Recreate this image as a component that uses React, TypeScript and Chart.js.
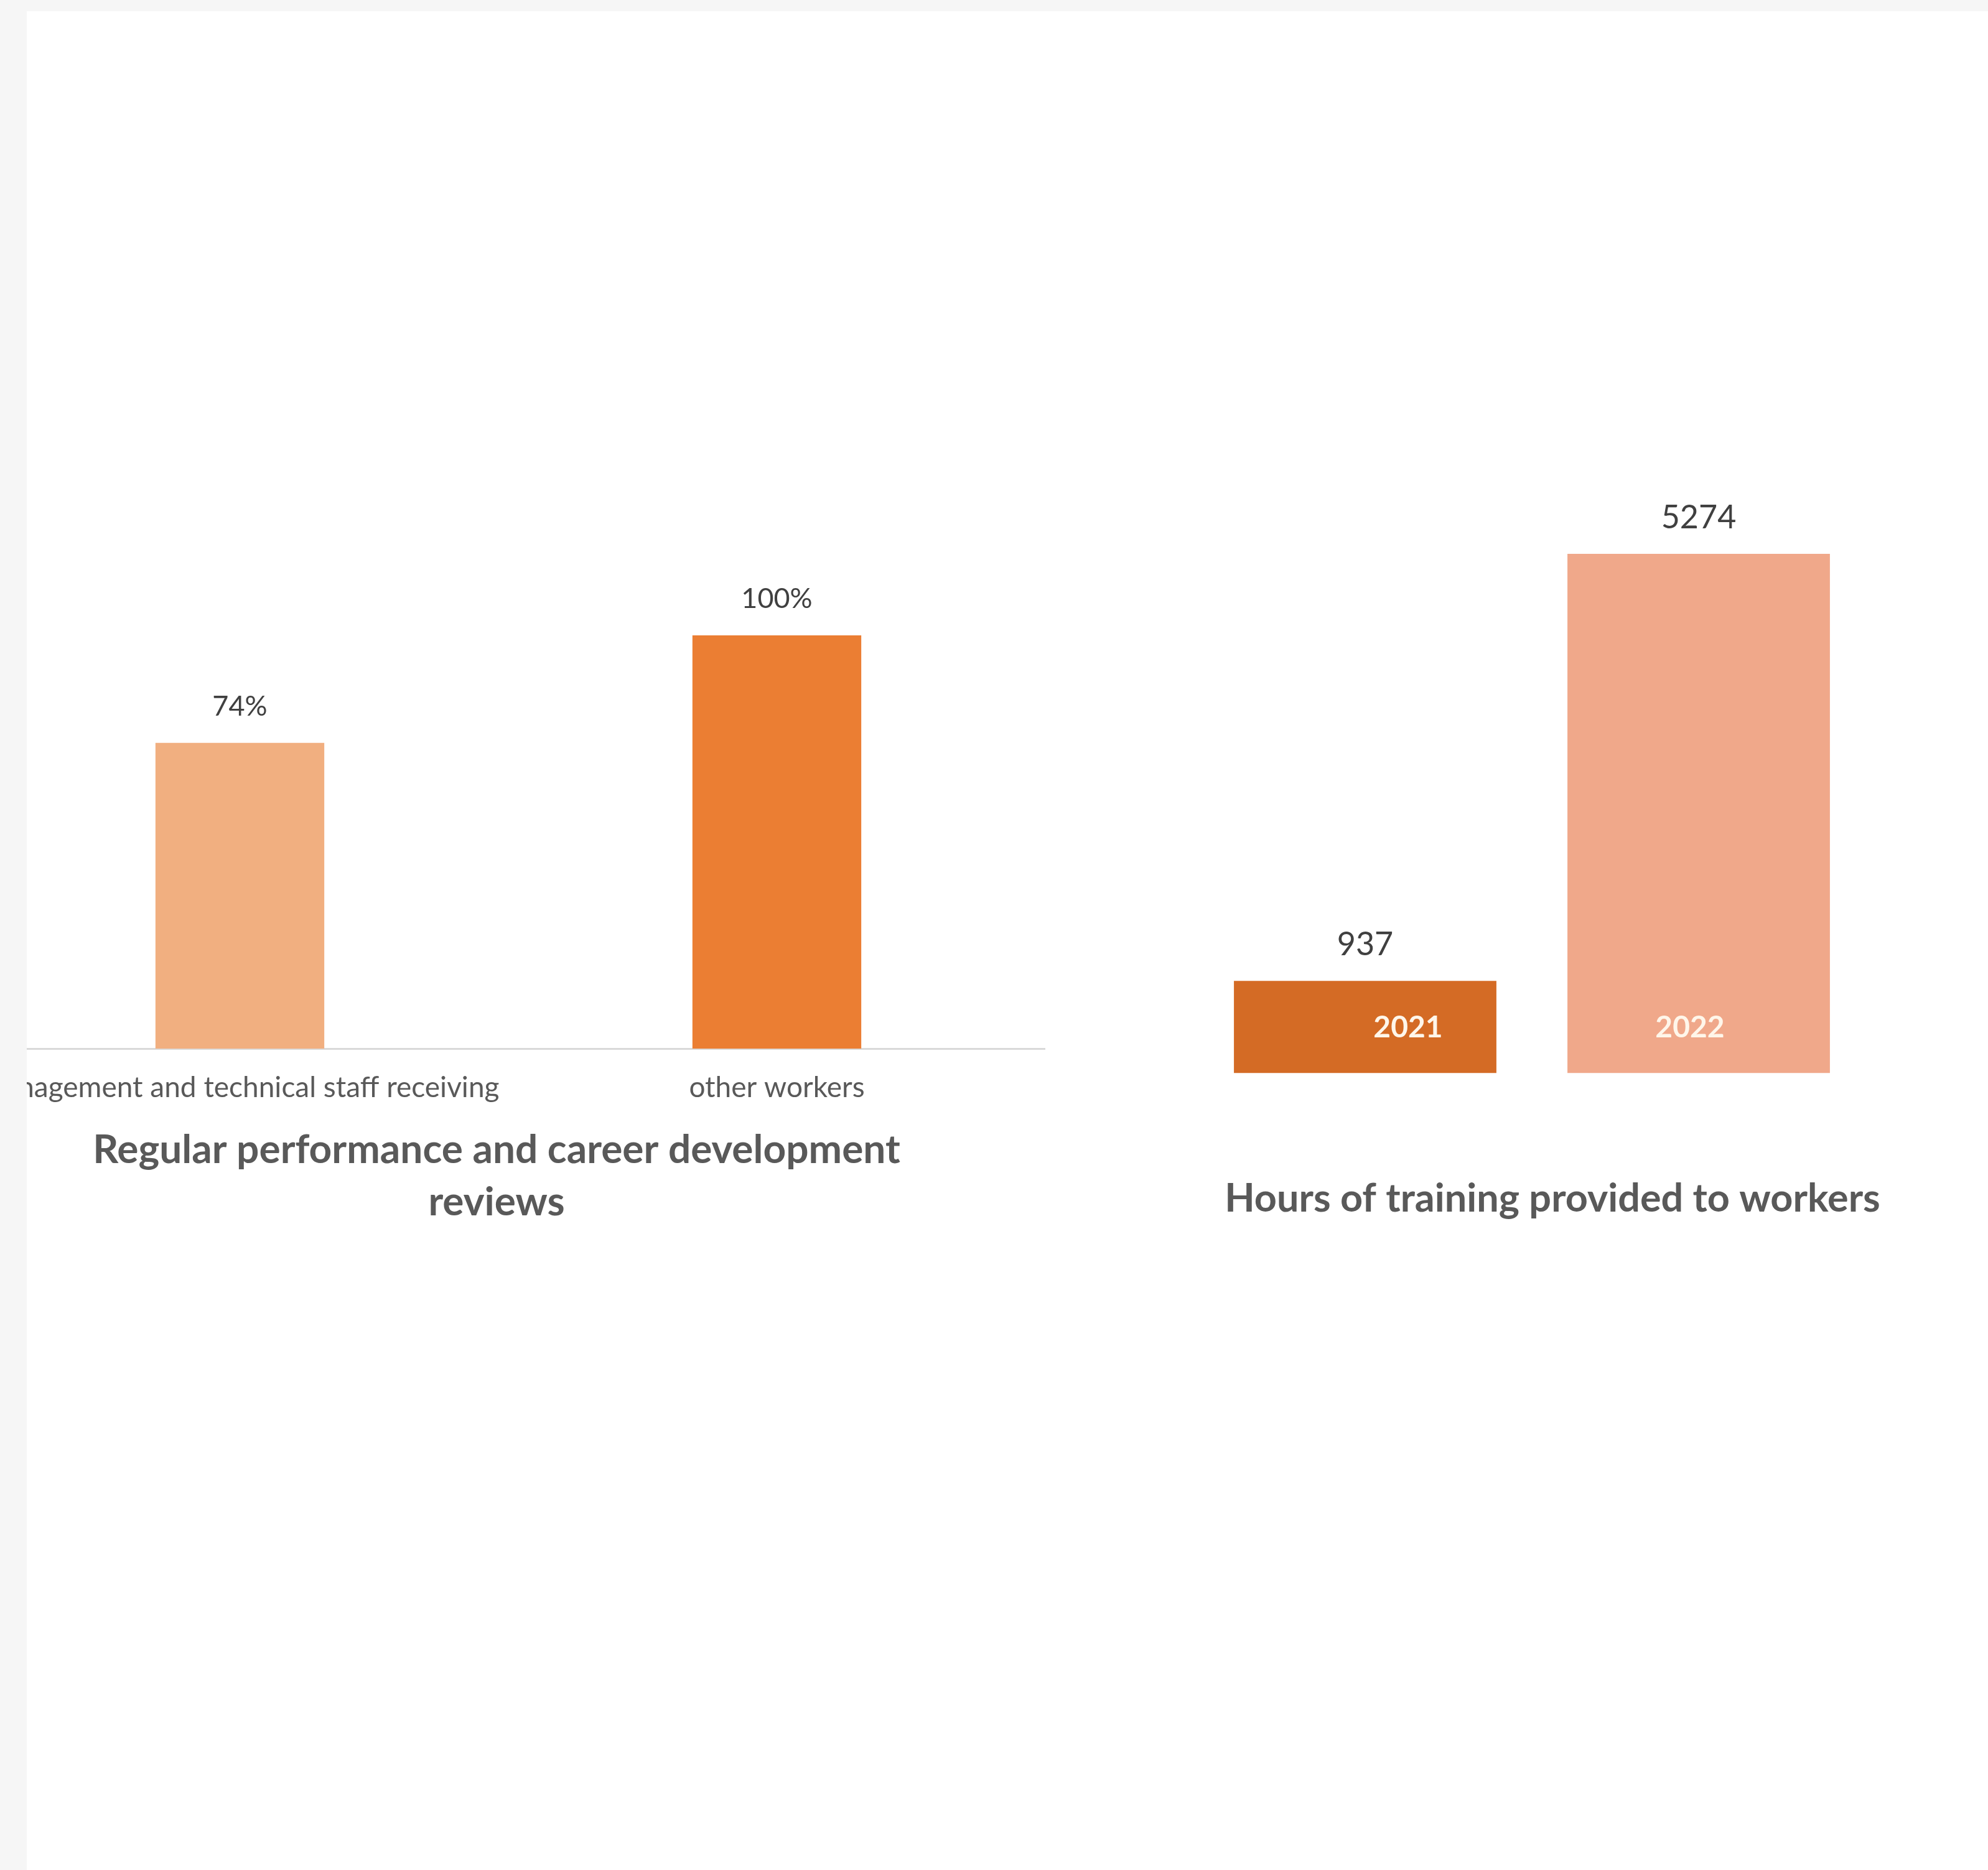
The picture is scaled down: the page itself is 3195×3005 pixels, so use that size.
import React, { useEffect, useRef } from "react";
import { Chart, registerables } from "chart.js";

Chart.register(...registerables);

// ---- Data: left chart ----
const reviewCategories = ["management and technical staff receiving", "other workers"];
const reviewValues = [0.74, 1.0];
const reviewLabels = ["74%", "100%"];
const reviewColors = ["#F1AF80", "#EB7E33"];
const reviewTitle = ["Regular performance and career development", "reviews"];

// ---- Data: right chart ----
const trainingYears = ["2021", "2022"];
const trainingHours = [937, 5274];
const trainingColors = ["#D46B25", "#F0A88A"];
const trainingTitle = "Hours of training provided to workers";

const FONT = "Lato, 'Open Sans', sans-serif";

function makeLabelPlugin(cfg: {
  labels: string[];
  font: string;
  color: string;
  offset: number;
  inner?: { labels: string[]; font: string; color: string; fromBase: number; dx: number[] };
}) {
  return {
    id: "barLabels",
    afterDatasetsDraw(chart: any) {
      const { ctx } = chart;
      const meta = chart.getDatasetMeta(0);
      ctx.save();
      ctx.textAlign = "center";
      ctx.textBaseline = "middle";
      meta.data.forEach((bar: any, i: number) => {
        ctx.font = cfg.font;
        ctx.fillStyle = cfg.color;
        ctx.fillText(cfg.labels[i], bar.x, bar.y - cfg.offset);
        if (cfg.inner) {
          ctx.font = cfg.inner.font;
          ctx.fillStyle = cfg.inner.color;
          ctx.fillText(cfg.inner.labels[i], bar.x + cfg.inner.dx[i], bar.base - cfg.inner.fromBase);
        }
      });
      ctx.restore();
    },
  };
}

export default function App() {
  const leftRef = useRef<HTMLCanvasElement | null>(null);
  const rightRef = useRef<HTMLCanvasElement | null>(null);

  useEffect(() => {
    const left = new Chart(leftRef.current as HTMLCanvasElement, {
      type: "bar",
      data: {
        labels: reviewCategories,
        datasets: [
          {
            data: reviewValues,
            backgroundColor: reviewColors,
            borderWidth: 0,
            barPercentage: 0.3144,
            categoryPercentage: 1,
          },
        ],
      },
      options: {
        animation: false,
        responsive: false,
        maintainAspectRatio: false,
        layout: { padding: 0 },
        plugins: {
          legend: { display: false },
          tooltip: { enabled: false },
          title: {
            display: true,
            position: "bottom",
            text: reviewTitle,
            color: "#595959",
            font: { family: FONT, size: 64, weight: "bold", lineHeight: 1.31 },
            padding: { top: 29, bottom: 10 },
          },
        },
        scales: {
          x: {
            grid: { display: true, drawOnChartArea: false, drawTicks: false, color: "rgba(0,0,0,0)" },
            border: { display: true, color: "#D9D9D9", width: 3 },
            ticks: {
              color: "#595959",
              font: { family: FONT, size: 46 },
              padding: 35,
              maxRotation: 0,
              autoSkip: false,
            },
            afterFit: (s: any) => {
              s.height = 92;
            },
          },
          y: {
            position: "left",
            min: 0,
            max: 1.2,
            grid: { display: false },
            border: { display: false },
            ticks: { display: false },
            afterFit: (s: any) => {
              s.width = 38;
            },
          },
        },
      },
      plugins: [
        makeLabelPlugin({
          labels: reviewLabels,
          font: `45px ${FONT}`,
          color: "#404040",
          offset: 58,
        }),
      ],
    } as any);

    const right = new Chart(rightRef.current as HTMLCanvasElement, {
      type: "bar",
      data: {
        labels: trainingYears,
        datasets: [
          {
            data: trainingHours,
            backgroundColor: trainingColors,
            borderWidth: 0,
            barPercentage: 0.787,
            categoryPercentage: 1,
          },
        ],
      },
      options: {
        animation: false,
        responsive: false,
        maintainAspectRatio: false,
        layout: { padding: 0 },
        plugins: {
          legend: { display: false },
          tooltip: { enabled: false },
          title: {
            display: true,
            position: "bottom",
            text: trainingTitle,
            color: "#595959",
            font: { family: FONT, size: 63, weight: "bold", lineHeight: 1.2 },
            padding: { top: 164, bottom: 10 },
          },
        },
        scales: {
          x: { display: false },
          y: {
            position: "right",
            min: 0,
            max: 6000,
            grid: { display: false },
            border: { display: false },
            ticks: { display: false },
            afterFit: (s: any) => {
              s.width = 66;
            },
          },
        },
      },
      plugins: [
        makeLabelPlugin({
          labels: trainingHours.map((v) => String(v)),
          font: `52px ${FONT}`,
          color: "#404040",
          offset: 58,
          inner: {
            labels: trainingYears,
            font: `bold 48px ${FONT}`,
            color: "#FFF6EA",
            fromBase: 73,
            dx: [69, -14],
          },
        }),
      ],
    } as any);

    return () => {
      left.destroy();
      right.destroy();
    };
  }, []);

  return (
    <div style={{ position: "fixed", left: 0, top: 0, width: 3195, height: 3005, background: "#F6F6F6" }}>
      <div
        style={{
          position: "absolute",
          left: 43,
          top: 18,
          right: 0,
          bottom: 0,
          background: "#FFFFFF",
          overflow: "hidden",
        }}
      >
        <canvas
          ref={leftRef}
          width={1764}
          height={1096}
          style={{ position: "absolute", left: -127, top: 870, width: 1764, height: 1096 }}
        />
        <canvas
          ref={rightRef}
          width={1138}
          height={1199}
          style={{ position: "absolute", left: 1883, top: 757, width: 1138, height: 1199 }}
        />
      </div>
    </div>
  );
}
